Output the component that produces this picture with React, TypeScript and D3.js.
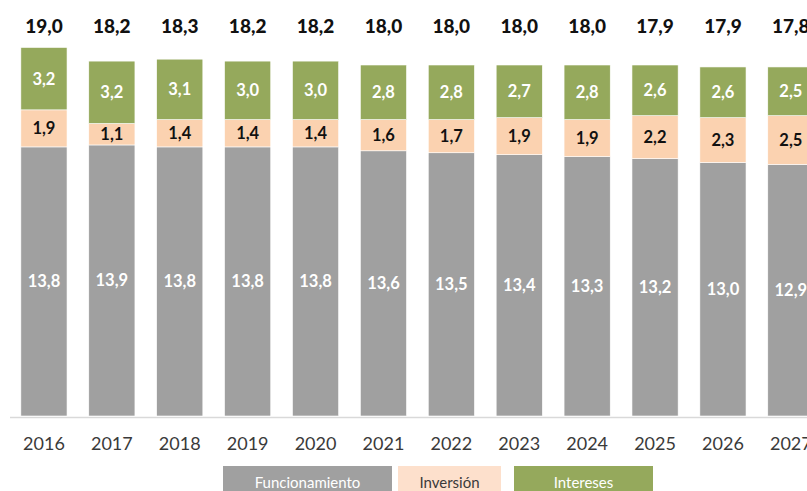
import React, { useEffect, useRef } from 'react';
import * as d3 from 'd3';

const width = 807;
const height = 491;

const years = ['2016', '2017', '2018', '2019', '2020', '2021', '2022', '2023', '2024', '2025', '2026', '2027'];
const funcionamiento = [13.8, 13.9, 13.8, 13.8, 13.8, 13.6, 13.5, 13.4, 13.3, 13.2, 13.0, 12.9];
const inversion = [1.9, 1.1, 1.4, 1.4, 1.4, 1.6, 1.7, 1.9, 1.9, 2.2, 2.3, 2.5];
const intereses = [3.2, 3.2, 3.1, 3.0, 3.0, 2.8, 2.8, 2.7, 2.8, 2.6, 2.6, 2.5];
const totals = [19.0, 18.2, 18.3, 18.2, 18.2, 18.0, 18.0, 18.0, 18.0, 17.9, 17.9, 17.8];

const keys = ['Funcionamiento', 'Inversión', 'Intereses'];
const colors = ['#a0a0a0', '#fbd2b0', '#95a95c'];
const labelColors = ['#ffffff', '#111111', '#ffffff'];
const legendFill = ['#a0a0a0', '#fde0cc', '#95a95c'];
const legendText = ['#ffffff', '#3a3a3a', '#ffffff'];
const legendX = [223, 398, 514];
const legendW = [169, 103, 139];

const fmt = (v: number) => v.toFixed(1).replace('.', ',');
const font = 'Lato, "Open Sans", sans-serif';

const App = () => {
  const ref = useRef<SVGSVGElement>(null);

  useEffect(() => {
    const svg = d3.select(ref.current);
    svg.selectAll('*').remove();

    const rows = years.map((yr, i) => ({
      year: yr,
      Funcionamiento: funcionamiento[i],
      'Inversión': inversion[i],
      Intereses: intereses[i],
    }));

    const series = d3.stack<any>().keys(keys)(rows);

    const x = d3.scaleBand()
      .domain(years)
      .range([10, 10 + years.length * 67.9])
      .paddingInner(0.32)
      .paddingOuter(0.16);

    const y = d3.scaleLinear()
      .domain([0, 20])
      .range([416, 416 - 20 * 19.5]);

    // axis line
    svg.append('line')
      .attr('x1', 10).attr('x2', 10 + years.length * 67.9)
      .attr('y1', 417.5).attr('y2', 417.5)
      .attr('stroke', '#d9d9d9').attr('stroke-width', 1.5);

    const g = svg.append('g')
      .selectAll('g')
      .data(series)
      .join('g')
      .attr('fill', (d, i) => colors[i]);

    g.selectAll('rect')
      .data(d => d)
      .join('rect')
      .attr('x', (d: any) => x(d.data.year)!)
      .attr('y', d => y(d[1]))
      .attr('width', x.bandwidth())
      .attr('height', d => y(d[0]) - y(d[1]))
      .attr('stroke', '#ffffff')
      .attr('stroke-width', 0.6);

    series.forEach((s, si) => {
      svg.append('g')
        .selectAll('text')
        .data(s)
        .join('text')
        .attr('x', (d: any) => x(d.data.year)! + x.bandwidth() / 2)
        .attr('y', d => (y(d[0]) + y(d[1])) / 2)
        .attr('dy', '0.36em')
        .attr('text-anchor', 'middle')
        .attr('font-family', font)
        .attr('font-weight', 'bold')
        .attr('font-size', 16.5)
        .attr('fill', labelColors[si])
        .text(d => fmt(d[1] - d[0]));
    });

    // totals
    svg.append('g')
      .selectAll('text')
      .data(totals)
      .join('text')
      .attr('x', (d, i) => x(years[i])! + x.bandwidth() / 2)
      .attr('y', 33)
      .attr('text-anchor', 'middle')
      .attr('font-family', font)
      .attr('font-weight', 900)
      .attr('font-size', 19)
      .attr('fill', '#111111')
      .text(d => fmt(d));

    // year labels
    svg.append('g')
      .selectAll('text')
      .data(years)
      .join('text')
      .attr('x', d => x(d)! + x.bandwidth() / 2)
      .attr('y', 450)
      .attr('text-anchor', 'middle')
      .attr('font-family', font)
      .attr('font-size', 18)
      .attr('fill', '#3a3a3a')
      .text(d => d);

    // legend
    const leg = svg.append('g')
      .selectAll('g')
      .data(keys)
      .join('g');

    leg.append('rect')
      .attr('x', (d, i) => legendX[i])
      .attr('y', 466)
      .attr('width', (d, i) => legendW[i])
      .attr('height', 30)
      .attr('fill', (d, i) => legendFill[i]);

    leg.append('text')
      .attr('x', (d, i) => legendX[i] + legendW[i] / 2)
      .attr('y', 488)
      .attr('text-anchor', 'middle')
      .attr('font-family', font)
      .attr('font-size', 15)
      .attr('fill', (d, i) => legendText[i])
      .text(d => d);
  }, []);

  return (
    <svg ref={ref} width={width} height={height}
      style={{ position: 'absolute', left: 0, top: 0, background: '#ffffff' }} />
  );
};

export default App;
